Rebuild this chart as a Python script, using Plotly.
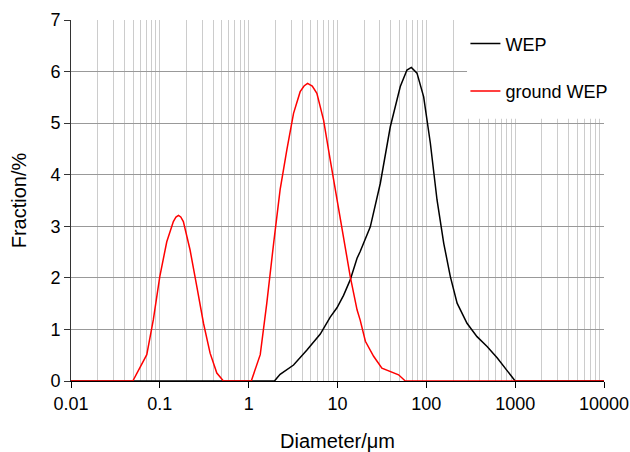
import plotly.graph_objects as go

# Diameter (µm) and fraction (%)
wep_d = [0.01, 1.95, 2.26, 3.20, 4.53, 6.40, 8.28, 9.86, 11.7, 13.9, 16.6, 18.0,
         23.4, 30.3, 39.3, 50.9, 60.5, 67.8, 78.5, 93.3, 111, 132, 157, 186,
         222, 287, 372, 483, 626, 811, 1000, 10000]
wep_f = [0, 0, 0.13, 0.31, 0.60, 0.91, 1.24, 1.42, 1.66, 1.96, 2.38, 2.51,
         2.99, 3.83, 4.93, 5.71, 6.03, 6.08, 5.97, 5.51, 4.61, 3.51, 2.67, 2.03,
         1.51, 1.12, 0.86, 0.67, 0.45, 0.19, 0, 0]

ground_d = [0.01, 0.0496, 0.0713, 0.0845, 0.1, 0.1197, 0.142, 0.152, 0.162, 0.172,
            0.184, 0.219, 0.261, 0.31, 0.368, 0.438, 0.52, 1.07, 1.35, 1.60, 1.91,
            2.26, 2.69, 3.20, 3.80, 4.20, 4.60, 5.20, 5.86, 6.97, 8.28, 9.86, 11.7,
            13.9, 16.6, 18.0, 20.6, 25.5, 31.6, 39.3, 48.7, 58, 10000]
ground_f = [0, 0, 0.51, 1.19, 2.03, 2.70, 3.09, 3.18, 3.21, 3.18,
            3.09, 2.54, 1.83, 1.12, 0.54, 0.155, 0, 0, 0.51, 1.51, 2.67,
            3.71, 4.48, 5.19, 5.61, 5.72, 5.77, 5.72, 5.58, 5.06, 4.29, 3.51, 2.74,
            2.03, 1.38, 1.18, 0.77, 0.48, 0.25, 0.19, 0.12, 0, 0]

x_tickvals = [0.01, 0.1, 1, 10, 100, 1000, 10000]
x_ticktext = ["0.01", "0.1", "1", "10", "100", "1000", "10000"]
y_tickvals = [0, 1, 2, 3, 4, 5, 6, 7]

FONT = "Liberation Sans, Arial, sans-serif"

fig = go.Figure()
fig.add_trace(go.Scatter(x=wep_d, y=wep_f, mode="lines", name="WEP",
                         legendgroup="a",
                         line=dict(color="#000000", width=1.5)))
fig.add_trace(go.Scatter(x=ground_d, y=ground_f, mode="lines", name="ground WEP",
                         legendgroup="b",
                         line=dict(color="#ff0000", width=1.5)))

# white patch behind the legend that hides the grid there
fig.add_shape(type="rect", xref="paper", yref="paper",
              x0=0.743, x1=1.02, y0=0.7265, y1=1.02,
              fillcolor="white", line=dict(width=0), layer="above")

fig.update_layout(
    width=630, height=452,
    margin=dict(l=71, r=26, t=20, b=71),
    paper_bgcolor="white", plot_bgcolor="white",
    font=dict(family=FONT, color="#000000", size=18),
    legend=dict(x=0.74, y=0.985, xanchor="left", yanchor="top",
                bgcolor="rgba(0,0,0,0)", font=dict(size=18, family=FONT),
                traceorder="grouped", tracegroupgap=21, itemwidth=30),
    xaxis=dict(type="log", range=[-2, 4], automargin=False,
               tickvals=x_tickvals, ticktext=x_ticktext,
               ticks="outside", ticklen=6, tickcolor="#000000",
               showline=True, linecolor="#000000", linewidth=1,
               showgrid=True, gridcolor="#cccccc", gridwidth=1,
               minor=dict(dtick="D1", showgrid=True, gridcolor="#cccccc",
                          gridwidth=1, ticks=""),
               zeroline=False,
               tickfont=dict(size=18),
               title=dict(text="Diameter/μm", font=dict(size=20), standoff=22)),
    yaxis=dict(range=[0, 7], tickvals=y_tickvals, automargin=False,
               ticks="outside", ticklen=6, tickcolor="#333333",
               showline=True, linecolor="#333333", linewidth=1,
               showgrid=True, gridcolor="#999999", gridwidth=1,
               zeroline=False,
               tickfont=dict(size=18),
               title=dict(text="Fraction/%", font=dict(size=20), standoff=18)),
)

fig.write_html("out.html")
